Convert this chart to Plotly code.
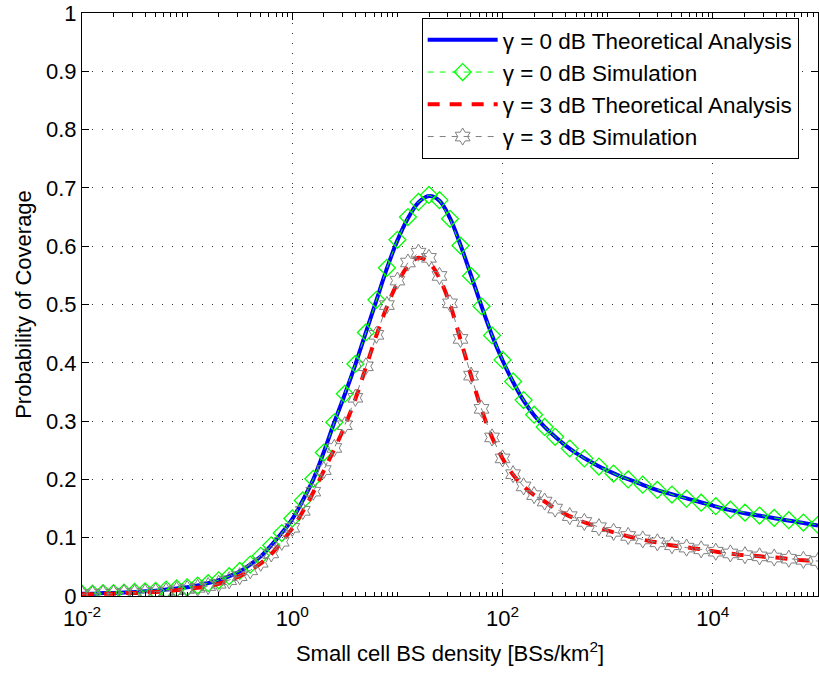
import numpy as np
import plotly.graph_objects as go

# ---------------- data ----------------
theory_logx_start, theory_logx_end, theory_n = -2, 5, 71
x_theory = np.logspace(theory_logx_start, theory_logx_end, theory_n)

cov_0dB_theory = [
    0.004, 0.004, 0.005, 0.005, 0.006, 0.007, 0.008, 0.009, 0.011, 0.013,
    0.015, 0.018, 0.022, 0.027, 0.034, 0.042, 0.054, 0.068, 0.087, 0.108,
    0.132, 0.164, 0.200, 0.247, 0.298, 0.346, 0.397, 0.452, 0.507, 0.562,
    0.610, 0.648, 0.675, 0.686, 0.678, 0.648, 0.602, 0.550, 0.497, 0.447,
    0.404, 0.367, 0.335, 0.310, 0.290, 0.273, 0.258, 0.245, 0.234, 0.224,
    0.215, 0.207, 0.200, 0.193, 0.186, 0.180, 0.175, 0.170, 0.165, 0.160,
    0.155, 0.150, 0.146, 0.142, 0.139, 0.136, 0.133, 0.130, 0.127, 0.124,
    0.121,
]
cov_3dB_theory = [
    0.003, 0.003, 0.004, 0.004, 0.005, 0.005, 0.006, 0.007, 0.008, 0.010,
    0.012, 0.014, 0.017, 0.021, 0.027, 0.034, 0.044, 0.056, 0.072, 0.093,
    0.116, 0.145, 0.178, 0.215, 0.252, 0.292, 0.338, 0.392, 0.447, 0.496,
    0.537, 0.566, 0.580, 0.572, 0.545, 0.500, 0.440, 0.378, 0.320, 0.272,
    0.236, 0.208, 0.188, 0.173, 0.162, 0.150, 0.140, 0.132, 0.125, 0.119,
    0.112, 0.107, 0.102, 0.098, 0.094, 0.091, 0.087, 0.085, 0.082, 0.080,
    0.077, 0.074, 0.072, 0.070, 0.069, 0.067, 0.066, 0.064, 0.062, 0.061,
    0.060,
]

# simulation sample densities (10 per decade up to 10^2.4, then sparser)
x_sim = np.concatenate([np.logspace(-2, 2.4, 45), np.logspace(2.5, 5, 19)])

cov_0dB_sim = [
    0.004, 0.004, 0.005, 0.005, 0.006, 0.007, 0.008, 0.009, 0.011, 0.013,
    0.015, 0.018, 0.022, 0.027, 0.034, 0.043, 0.054, 0.069, 0.087, 0.108,
    0.133, 0.164, 0.201, 0.246, 0.298, 0.347, 0.398, 0.452, 0.508, 0.563,
    0.611, 0.650, 0.676, 0.688, 0.679, 0.647, 0.601, 0.549, 0.497, 0.447,
    0.405, 0.368, 0.336, 0.311, 0.290,
    0.273, 0.253, 0.236, 0.222, 0.210, 0.200, 0.191, 0.182, 0.174, 0.167,
    0.160, 0.154, 0.148, 0.143, 0.138, 0.134, 0.130, 0.126, 0.122,
]
cov_3dB_sim = [
    0.003, 0.003, 0.004, 0.004, 0.005, 0.005, 0.006, 0.007, 0.008, 0.010,
    0.012, 0.014, 0.017, 0.021, 0.027, 0.034, 0.044, 0.057, 0.073, 0.093,
    0.117, 0.146, 0.179, 0.216, 0.254, 0.293, 0.340, 0.394, 0.448, 0.499,
    0.541, 0.572, 0.589, 0.580, 0.549, 0.502, 0.441, 0.378, 0.321, 0.272,
    0.236, 0.209, 0.188, 0.173, 0.162,
    0.150, 0.137, 0.127, 0.118, 0.110, 0.103, 0.097, 0.092, 0.087, 0.083,
    0.080, 0.076, 0.073, 0.070, 0.068, 0.066, 0.064, 0.062, 0.060,
]

series_names = [
    "γ = 0 dB Theoretical Analysis",
    "γ = 0 dB Simulation",
    "γ = 3 dB Theoretical Analysis",
    "γ = 3 dB Simulation",
]

x_tickvals = [1e-2, 1e0, 1e2, 1e4]
x_ticktext = ["10<sup>-2</sup>", "10<sup>0</sup>", "10<sup>2</sup>", "10<sup>4</sup>"]
y_tickvals = [0, 0.1, 0.2, 0.3, 0.4, 0.5, 0.6, 0.7, 0.8, 0.9, 1]
y_ticktext = ["0", "0.1", "0.2", "0.3", "0.4", "0.5", "0.6", "0.7", "0.8", "0.9", "1"]

x_title = "Small cell BS density [BSs/km<sup>2</sup>]"
y_title = "Probability of Coverage"

# ---------------- figure ----------------
FONT = "Liberation Sans"

fig = go.Figure()
fig.add_trace(go.Scatter(
    x=x_theory, y=cov_0dB_theory, name=series_names[0], mode="lines",
    line=dict(color="#0000FF", width=4, shape="spline"),
))
fig.add_trace(go.Scatter(
    x=x_sim, y=cov_0dB_sim, name=series_names[1], mode="lines+markers",
    line=dict(color="#00FF00", width=1, dash="6px,6px"),
    marker=dict(symbol="diamond-open", size=13, color="#00FF00",
                line=dict(color="#00FF00", width=1.3)),
))
fig.add_trace(go.Scatter(
    x=x_theory, y=cov_3dB_theory, name=series_names[2], mode="lines",
    line=dict(color="#FF0000", width=4, dash="12px,10px", shape="spline"),
))
fig.add_trace(go.Scatter(
    x=x_sim, y=cov_3dB_sim, name=series_names[3], mode="lines+markers",
    line=dict(color="#808080", width=1, dash="6px,6px"),
    marker=dict(symbol="hexagram-open", size=13, color="#808080",
                line=dict(color="#808080", width=1)),
))

axis_common = dict(
    automargin=False,
    showline=True, linecolor="black", linewidth=1, mirror="ticks",
    ticks="inside", ticklen=7, tickcolor="black", tickwidth=1,
    showgrid=True, gridcolor="#333333", gridwidth=1, griddash="1px,9px",
    zeroline=False,
    ticklabeloverflow="allow",
    tickfont=dict(family=FONT, size=22, color="black"),
    title_font=dict(family=FONT, size=22, color="black"),
)

fig.update_xaxes(
    type="log", range=[-2, 5],
    tickmode="array", tickvals=x_tickvals, ticktext=x_ticktext,
    ticklabelstandoff=3,
    minor=dict(ticks="inside", ticklen=4, tickcolor="black", dtick="D1", showgrid=False),
    title_text=x_title, title_standoff=15,
    **axis_common,
)
fig.update_yaxes(
    range=[0, 1],
    tickmode="array", tickvals=y_tickvals, ticktext=y_ticktext,
    title_text=y_title, title_standoff=8,
    **axis_common,
)

fig.update_layout(
    width=819, height=673,
    margin=dict(l=82, r=1, t=13, b=77),
    paper_bgcolor="white", plot_bgcolor="white",
    font=dict(family=FONT, size=22, color="black"),
    showlegend=True,
    legend=dict(
        x=0.4615, xanchor="left", y=0.992, yanchor="top",
        bgcolor="white", bordercolor="black", borderwidth=1,
        font=dict(family=FONT, size=22.5, color="black"),
        itemwidth=70, tracegroupgap=0,
    ),
)

# remove the default 8px page margin so the figure sits at the window origin
fig.write_html("out.html", config={"displayModeBar": False},
               post_script="document.body.style.margin='0';")
